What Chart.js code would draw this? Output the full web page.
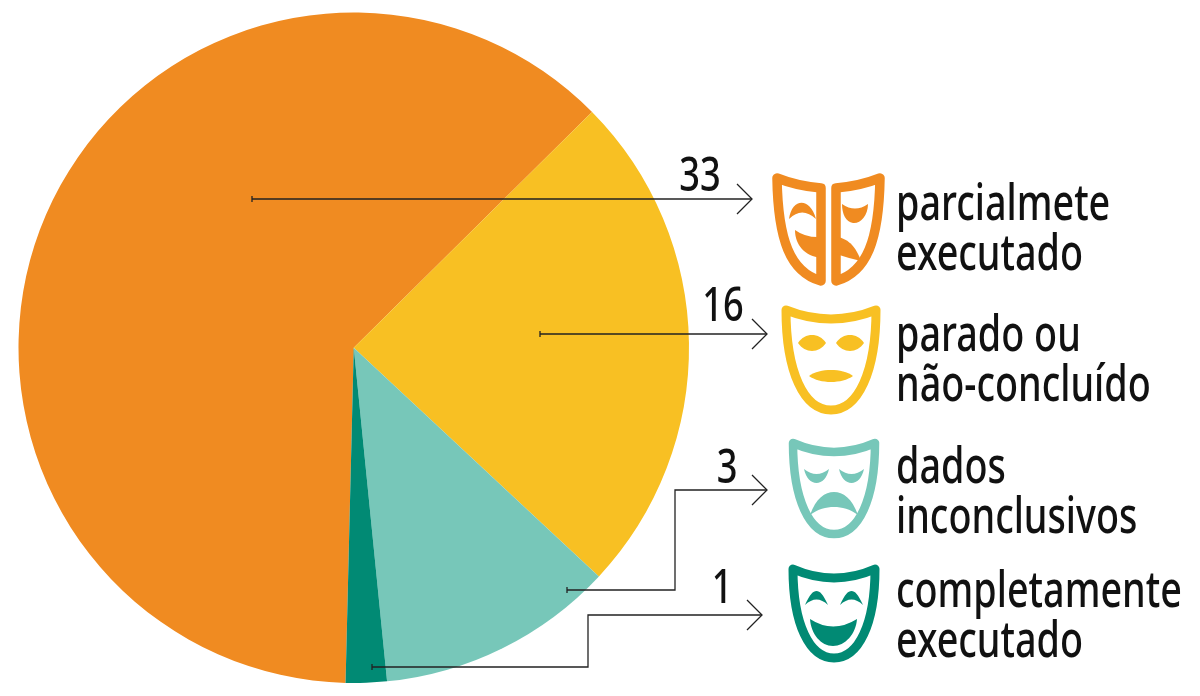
<!DOCTYPE html>
<html>
<head>
<meta charset="utf-8">
<title>Metas</title>
<script src="https://cdn.jsdelivr.net/npm/chart.js@4/dist/chart.umd.min.js"></script>
<style>
  html, body { margin: 0; padding: 0; background: #fff; }
  canvas { display: block; }
</style>
</head>
<body>
<canvas id="pie" width="1200" height="696"></canvas>
<script>
const categories = ['parcialmete executado', 'parado ou não-concluído', 'dados inconclusivos', 'completamente executado'];
// slice angles in degrees (the slices are not proportional to the printed counts)
const sliceValues = [223.9, 87.7, 41.3, 7.1];
const countLabels = ['33', '16', '3', '1'];
const sliceColors = ['#f08b21', '#f8c023', '#77c7b9', '#018a74'];
const legendLines = [
  ['parcialmete', 'executado'],
  ['parado ou', 'não-concluído'],
  ['dados', 'inconclusivos'],
  ['completamente', 'executado']
];

const FONT = '"Noto Sans"';
const TEXT_SQUEEZE = 0.755;

// leader lines: path from the slice to the arrow tip
const leaders = [
  { path: [[252, 199], [752, 199]], count: [700, 191], lines: [[896, 220], [896, 270]] },
  { path: [[540, 334], [767, 334]], count: [723, 321], lines: [[896, 351], [896, 401]] },
  { path: [[567, 590], [675, 590], [675, 490], [767, 490]], count: [727, 483], lines: [[896, 483], [896, 533]] },
  { path: [[372, 667], [588, 667], [588, 615], [762, 615]], count: [722, 603], lines: [[896, 607], [896, 657]] }
];

function drawText(ctx, str, x, y, size, align) {
  ctx.save();
  ctx.translate(x, y);
  ctx.scale(TEXT_SQUEEZE, 1);
  ctx.font = `500 ${size}px ${FONT}`;
  ctx.fillStyle = '#111';
  ctx.textAlign = align;
  ctx.textBaseline = 'alphabetic';
  ctx.fillText(str, 0, 0);
  ctx.restore();
}

function drawLeader(ctx, path) {
  ctx.strokeStyle = '#222';
  ctx.lineWidth = 1.3;
  ctx.beginPath();
  path.forEach((p, i) => i ? ctx.lineTo(p[0], p[1]) : ctx.moveTo(p[0], p[1]));
  ctx.stroke();
  // small tick at the start
  const s = path[0];
  ctx.beginPath();
  ctx.moveTo(s[0], s[1] - 3);
  ctx.lineTo(s[0], s[1] + 3);
  ctx.stroke();
  // open arrow head
  const t = path[path.length - 1];
  ctx.beginPath();
  ctx.moveTo(t[0] - 15, t[1] - 15);
  ctx.lineTo(t[0], t[1]);
  ctx.lineTo(t[0] - 15, t[1] + 15);
  ctx.stroke();
}

function faceOutline(ctx, cx, top, hw, dip, h) {
  ctx.beginPath();
  ctx.moveTo(cx - hw, top);
  ctx.quadraticCurveTo(cx, top + dip * 2, cx + hw, top);
  ctx.bezierCurveTo(cx + hw, top + h * 0.62, cx + hw * 0.6, top + h, cx, top + h);
  ctx.bezierCurveTo(cx - hw * 0.6, top + h, cx - hw, top + h * 0.62, cx - hw, top);
  ctx.closePath();
  ctx.stroke();
}

function lens(ctx, x, y, rx, ry) {
  const c = ry * 1.33;
  ctx.beginPath();
  ctx.moveTo(x - rx, y);
  ctx.bezierCurveTo(x - rx * 0.5, y - c, x + rx * 0.5, y - c, x + rx, y);
  ctx.bezierCurveTo(x + rx * 0.5, y + c, x - rx * 0.5, y + c, x - rx, y);
  ctx.fill();
}

function shape(ctx, build) {
  ctx.beginPath();
  build();
  ctx.closePath();
  ctx.fill();
}

function maskStyle(ctx, color, lw) {
  ctx.strokeStyle = color;
  ctx.fillStyle = color;
  ctx.lineWidth = lw;
  ctx.lineJoin = 'round';
  ctx.lineCap = 'round';
}

function drawHalfMasks(ctx, color) {
  maskStyle(ctx, color, 9.5);
  // left half
  ctx.beginPath();
  ctx.moveTo(777, 178);
  ctx.quadraticCurveTo(797, 186, 821, 188);
  ctx.lineTo(821, 281);
  ctx.bezierCurveTo(790, 272, 778, 240, 777, 178);
  ctx.closePath();
  ctx.stroke();
  // right half
  ctx.beginPath();
  ctx.moveTo(880, 178);
  ctx.quadraticCurveTo(860, 186, 836, 188);
  ctx.lineTo(836, 281);
  ctx.bezierCurveTo(867, 272, 879, 240, 880, 178);
  ctx.closePath();
  ctx.stroke();
  // left eye and mouth
  shape(ctx, () => {
    ctx.moveTo(789, 219);
    ctx.bezierCurveTo(792, 198, 810, 197, 816, 219);
    ctx.quadraticCurveTo(802, 206, 789, 219);
  });
  shape(ctx, () => {
    ctx.moveTo(795, 230);
    ctx.quadraticCurveTo(806, 238, 821, 237);
    ctx.lineTo(821, 258);
    ctx.bezierCurveTo(805, 256, 795, 245, 795, 230);
  });
  // right eye and mouth
  shape(ctx, () => {
    ctx.moveTo(842, 204);
    ctx.quadraticCurveTo(855, 213, 868, 204);
    ctx.bezierCurveTo(868, 216, 860, 224, 853, 223);
    ctx.bezierCurveTo(846, 222, 842, 214, 842, 204);
  });
  shape(ctx, () => {
    ctx.moveTo(836, 237);
    ctx.bezierCurveTo(850, 238, 857, 250, 861, 261);
    ctx.quadraticCurveTo(848, 258, 836, 254);
  });
}

function drawNeutralMask(ctx, color) {
  maskStyle(ctx, color, 9);
  faceOutline(ctx, 831, 310, 45, 9, 100);
  lens(ctx, 812, 343, 14, 8);
  lens(ctx, 850, 343, 14, 8);
  lens(ctx, 831, 376, 22, 6);
}

function drawSadMask(ctx, color) {
  maskStyle(ctx, color, 8.5);
  faceOutline(ctx, 834, 443, 41, 9, 91);
  [[804, 829], [839, 864]].forEach(e => shape(ctx, () => {
    const m = (e[0] + e[1]) / 2;
    ctx.moveTo(e[0], 469);
    ctx.quadraticCurveTo(m, 479, e[1], 469);
    ctx.bezierCurveTo(e[1] - 2, 478, e[1] - 7, 483, m, 483);
    ctx.bezierCurveTo(e[0] + 7, 483, e[0] + 2, 478, e[0], 469);
  }));
  shape(ctx, () => {
    ctx.moveTo(810, 515);
    ctx.bezierCurveTo(816, 498, 825, 492, 834, 492);
    ctx.bezierCurveTo(843, 492, 852, 498, 858, 515);
    ctx.bezierCurveTo(850, 509, 842, 507, 834, 507);
    ctx.bezierCurveTo(826, 507, 818, 509, 810, 515);
  });
}

function drawHappyMask(ctx, color) {
  maskStyle(ctx, color, 9);
  faceOutline(ctx, 834, 569, 41, 9, 89);
  [[805, 828], [840, 863]].forEach(e => shape(ctx, () => {
    const m = (e[0] + e[1]) / 2;
    ctx.moveTo(e[0], 605);
    ctx.bezierCurveTo(e[0] + 5, 594, e[0] + 8, 591, m, 591);
    ctx.bezierCurveTo(e[1] - 8, 591, e[1] - 5, 594, e[1], 605);
    ctx.quadraticCurveTo(m, 594, e[0], 605);
  }));
  shape(ctx, () => {
    ctx.moveTo(810, 619);
    ctx.quadraticCurveTo(833, 634, 857, 619);
    ctx.bezierCurveTo(856, 634, 845, 646, 833, 646);
    ctx.bezierCurveTo(821, 646, 811, 634, 810, 619);
  });
}

const annotations = {
  id: 'annotations',
  afterDraw(chart) {
    const ctx = chart.ctx;
    ctx.save();
    leaders.forEach((l, i) => {
      drawLeader(ctx, l.path);
      drawText(ctx, countLabels[i], l.count[0], l.count[1], 48, 'center');
    });
    drawHalfMasks(ctx, sliceColors[0]);
    drawNeutralMask(ctx, sliceColors[1]);
    drawSadMask(ctx, sliceColors[2]);
    drawHappyMask(ctx, sliceColors[3]);
    leaders.forEach((l, i) => {
      l.lines.forEach((p, j) => drawText(ctx, legendLines[i][j], p[0], p[1], 50, 'left'));
    });
    ctx.restore();
  }
};

new Chart(document.getElementById('pie').getContext('2d'), {
  type: 'pie',
  data: {
    labels: categories,
    datasets: [{
      data: sliceValues,
      backgroundColor: sliceColors,
      borderWidth: 0
    }]
  },
  options: {
    responsive: false,
    animation: false,
    rotation: 181.4,
    layout: { padding: { left: 18, right: 510.5, top: 12.5, bottom: 13 } },
    plugins: { legend: { display: false }, tooltip: { enabled: false } }
  },
  plugins: [annotations]
});
</script>
</body>
</html>
